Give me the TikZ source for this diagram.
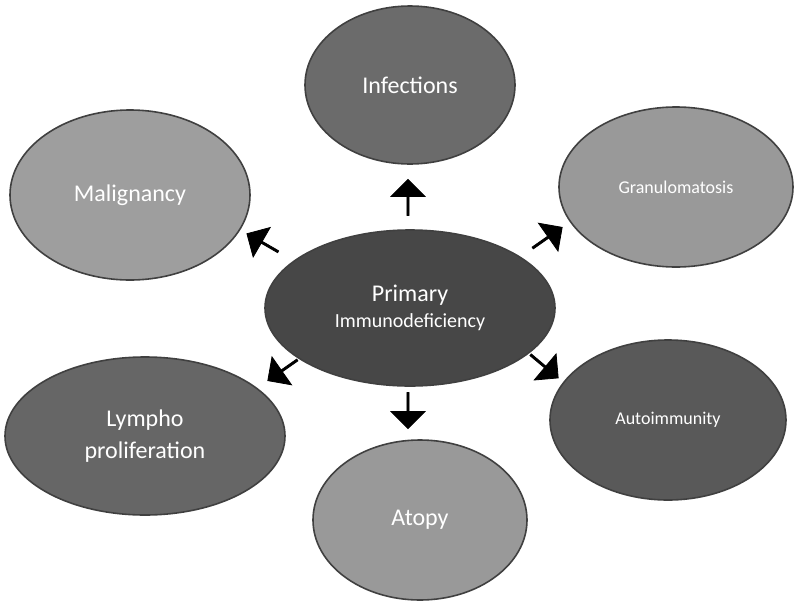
\documentclass[tikz,border=0pt]{standalone}
\usepackage{fontspec}
\setmainfont{Carlito}
\usetikzlibrary{shapes.arrows,shapes.geometric}
\begin{document}
\begin{tikzpicture}[x=0.5pt,y=-0.5pt,
  ell/.style={ellipse,draw=black!75,line width=0.8pt,text=white,align=center,inner sep=0pt},
  blk/.style={single arrow,fill=black,draw=black,minimum height=18pt,minimum width=17pt,single arrow head extend=3pt,inner sep=0pt}]
\useasboundingbox (0,0) rectangle (800,612);
\node[ell,fill=black!58,minimum width=105pt,minimum height=79pt,font=\fontsize{12}{14}\selectfont] (inf) at (410,85) {Infections};
\node[ell,fill=black!40,minimum width=117pt,minimum height=80pt,font=\fontsize{9}{11}\selectfont] (gra) at (676,187) {Granulomatosis};
\node[ell,fill=black!38,minimum width=120pt,minimum height=85pt,font=\fontsize{12}{14}\selectfont] (mal) at (130,195) {Malignancy};
\node[ell,fill=black!72,minimum width=145pt,minimum height=78pt,font=\fontsize{12}{14}\selectfont] (pid) at (410,308) {Primary\\[-1pt]{\fontsize{10}{12}\selectfont Immunodeficiency}};
\node[ell,fill=black!65,minimum width=118pt,minimum height=80pt,font=\fontsize{9}{11}\selectfont] (aut) at (668,420) {Autoimmunity};
\node[ell,fill=black!60,minimum width=140pt,minimum height=79pt,font=\fontsize{12}{16}\selectfont] (lym) at (145,436) {Lympho\\proliferation};
\node[ell,fill=black!40,minimum width=107pt,minimum height=80pt,font=\fontsize{12}{14}\selectfont] (ato) at (420,520) {Atopy};
\node[blk,rotate=90] (a1) at (408,198) {};
\node[blk,rotate=35] (a2) at (547,238) {};
\node[blk,rotate=150] (a3) at (263,243) {};
\node[blk,rotate=215] (a4) at (283,370) {};
\node[blk,rotate=-90] (a5) at (408,410) {};
\node[blk,rotate=-40] (a6) at (544,366) {};
\end{tikzpicture}
\end{document}
